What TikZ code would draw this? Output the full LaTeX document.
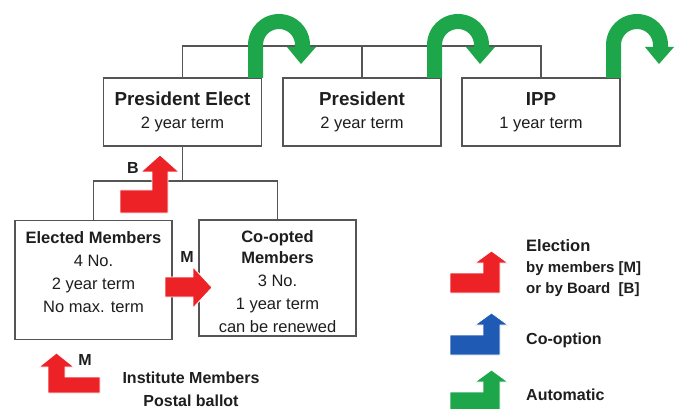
\documentclass[tikz,border=0pt]{standalone}
\usepackage{fontspec}
\setmainfont{Liberation Sans}
\definecolor{redA}{HTML}{EC2227}
\definecolor{greenA}{HTML}{1EA64A}
\definecolor{blueA}{HTML}{1F5BB4}
\definecolor{txt}{HTML}{1E1E1E}
\definecolor{edge}{HTML}{555555}
\newcommand\ttlfont{\bfseries\fontsize{18.8}{22}\selectfont}
\begin{document}
\begin{tikzpicture}[x=1pt,y=-1pt,
  box/.style={draw=edge,line width=1.3pt,fill=white,minimum width=158pt,minimum height=68pt,inner sep=0pt,text=txt,align=center,font=\fontsize{16.5}{20}\selectfont},
  lowbox/.style={box,minimum width=157pt,minimum height=119pt},
  conn/.style={draw=edge,line width=1.2pt},
  arr/.style={draw=white,line width=0.8pt,line join=miter},
  lbl/.style={text=txt,font=\bfseries\fontsize{16}{18}\selectfont,inner sep=0pt}]
\useasboundingbox (0,0) rectangle (675,409);
\fill[white] (0,0) rectangle (675,409);
\coordinate (topbar) at (0,46);
\coordinate (lowbar) at (0,181);
% top boxes
\node[box] (pe) at (182.5,112) {{\ttlfont President Elect}\\[3pt]2 year term};
\node[box] (pr) at (362,112) {{\ttlfont President}\\[3pt]2 year term};
\node[box] (ipp) at (541,112) {{\ttlfont IPP}\\[3pt]1 year term};
% lower boxes
\node[lowbox] (em) at (93.5,280) {\textbf{Elected Members}\\[3pt]4 No.\\[3pt]2 year term\\[3pt]No max. term\\[-5pt]};
\node[lowbox,minimum height=116pt] (co) at (277.5,278) {\textbf{Co-opted}\\[1pt]\textbf{Members}\\[3pt]3 No.\\[3pt]1 year term\\[3pt]can be renewed\\[-28pt]};
% connectors
\draw[conn] (pe.north) -- (pe.north |- topbar) -- (ipp.north |- topbar) -- (ipp.north);
\draw[conn] (pr.north) -- (pr.north |- topbar);
\draw[conn] (pe.south) -- (pe.south |- lowbar);
\draw[conn] (em.north) -- (em.north |- lowbar) -- (co.north |- lowbar) -- (co.north);
% green U-turn arrows
\foreach \L in {248,427,606}{
  \fill[greenA] (\L,78) -- (\L,45) arc[start angle=180,end angle=360,radius=31] -- (\L+62,47) -- (\L+68,47) -- (\L+53,64) -- (\L+39,47) -- (\L+47,47) -- (\L+47,45) arc[start angle=360,end angle=180,radius=16] -- (\L+15,78) -- cycle;
}
% red arrows
\filldraw[fill=redA,arr] (120,213) -- (168,213) -- (168,172) -- (179,172) -- (160,155) -- (141,172) -- (152,172) -- (152,190) -- (120,190) -- cycle;
\filldraw[fill=redA,arr] (165,277) -- (193,277) -- (193,267) -- (212,287.5) -- (193,308) -- (193,297) -- (165,297) -- cycle;
\filldraw[fill=redA,arr] (48,393) -- (100,393) -- (100,377) -- (65,377) -- (65,367) -- (74,367) -- (56.5,353) -- (39,367) -- (48,367) -- cycle;
% labels
\node[lbl] (lb) at (133,168) {B};
\node[lbl] (lm1) at (187,257) {M};
\node[lbl] (lm2) at (85,360) {M};
\node[lbl,align=center,font=\bfseries\fontsize{16}{23}\selectfont] (inst) at (191,389) {Institute Members\\Postal ballot};
% legend
\foreach \dy/\col in {0/redA,62/blueA,119/greenA}{
  \filldraw[fill=\col,arr,yshift=-\dy pt] (450,293) -- (500,293) -- (500,263) -- (508,263) -- (491.5,251) -- (475,263) -- (483,263) -- (483,273) -- (450,273) -- cycle;
}
\node[lbl,anchor=west,align=left,font=\bfseries\fontsize{15}{21}\selectfont] (le) at (526,268) {{\fontsize{16.5}{21}\selectfont Election}\\by members [M]\\or by Board\ \ [B]};
\node[lbl,anchor=west] (lc) at (526,340) {Co-option};
\node[lbl,anchor=west] (la) at (526,395) {Automatic};
\end{tikzpicture}
\end{document}
